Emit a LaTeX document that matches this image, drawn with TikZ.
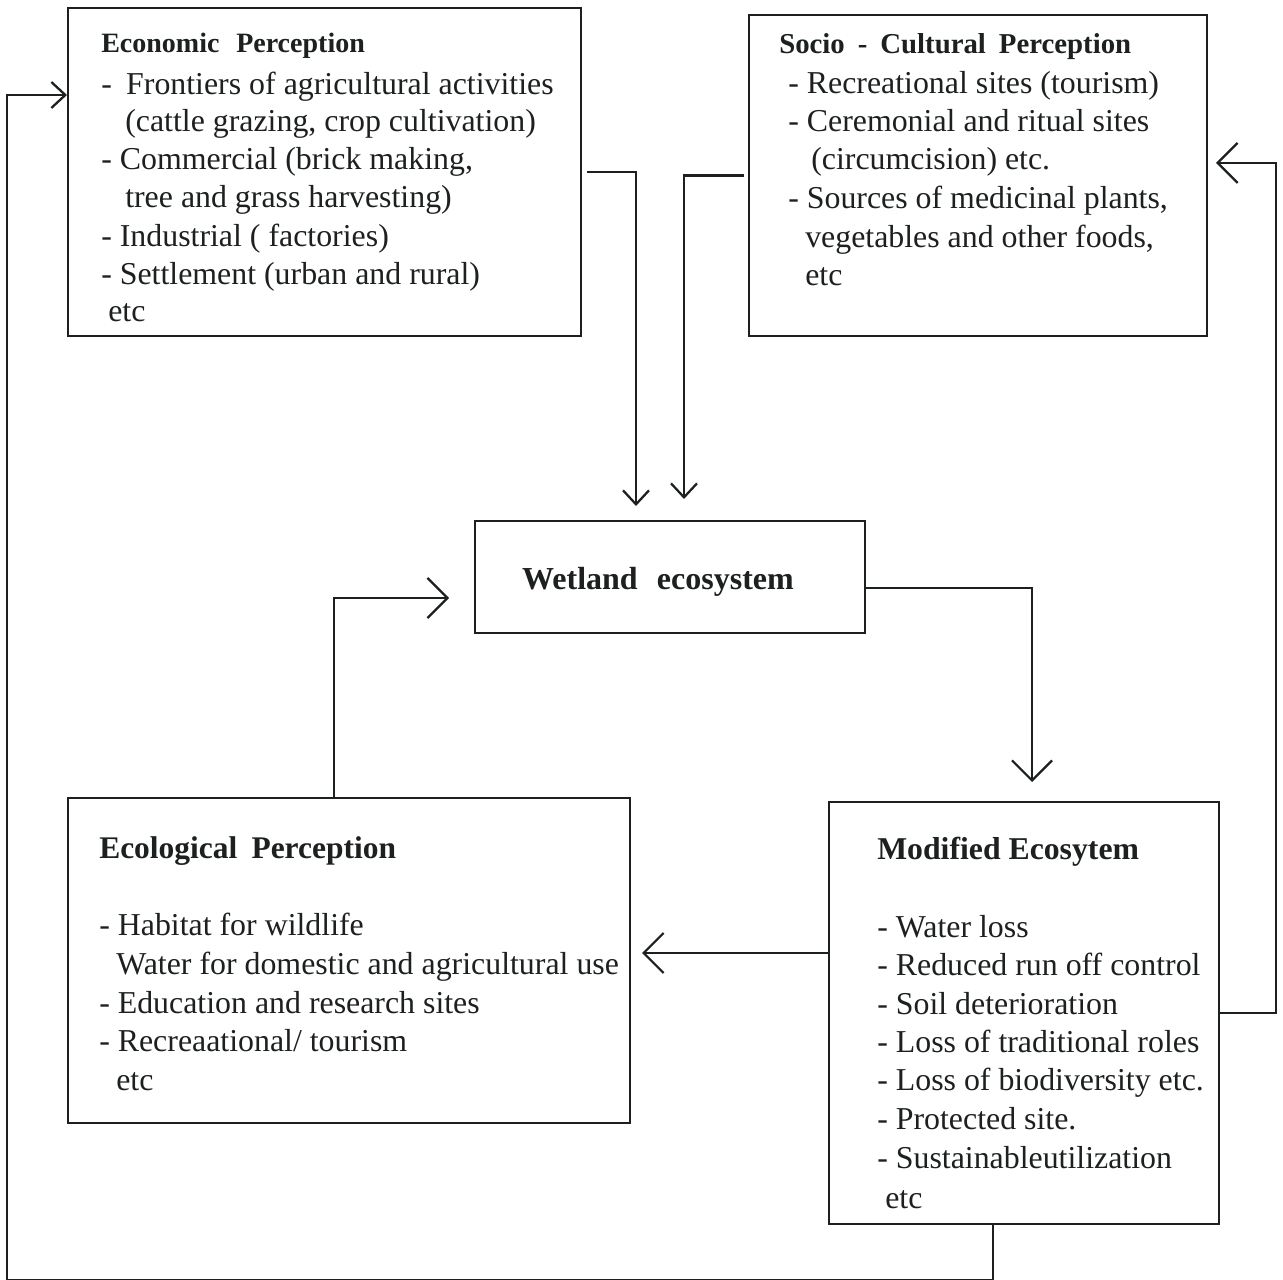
\documentclass[tikz,border=0pt]{standalone}
\usepackage{fontspec}
\setmainfont{Liberation Serif}
\usetikzlibrary{arrows.meta,calc}
\definecolor{ink}{RGB}{28,32,30}
\begin{document}
\begin{tikzpicture}[x=0.75pt,y=-0.75pt,
  box/.style={draw=ink, line width=1.5pt, rectangle, inner sep=0pt},
  txt/.style={anchor=base west, inner sep=0pt, text=ink, font=\fontsize{23.9}{28}\selectfont},
  head/.style={anchor=base west, inner sep=0pt, text=ink, font=\bfseries\fontsize{21}{25}\selectfont},
  conn/.style={draw=ink, line width=1.7pt, line join=miter},
  arrbig/.style={conn, -{Straight Barb[length=15pt,width=30pt,line width=1.7pt]}},
  arrsmall/.style={conn, -{Straight Barb[length=10.5pt,width=19.5pt,line width=1.7pt]}}
]
\useasboundingbox[fill=white] (0,0) rectangle (1283,1280);

% boxes
\node[box, minimum width=384.75pt, minimum height=246pt] (econ) at (324.5,172) {};
\node[box, minimum width=343.5pt, minimum height=240.75pt] (socio) at (978,175.5) {};
\node[box, minimum width=292.5pt, minimum height=84pt] (wet) at (670,577) {};
\node[box, minimum width=421.5pt, minimum height=243.75pt] (ecol) at (349,960.5) {};
\node[box, minimum width=292.5pt, minimum height=316.5pt] (mod) at (1024,1013) {};

% economic text
\node[head] (eh) at (101,53) {Economic\hspace{0.6em}Perception};
\foreach \i/\x/\y/\t in {1/101/95/{-\hspace{0.45em}Frontiers of agricultural activities},
  2/125/132/{(cattle grazing, crop cultivation)},
  3/101/170/{- Commercial (brick making,},
  4/125/208/{tree and grass harvesting)},
  5/101/247/{- Industrial ( factories)},
  6/101/285/{- Settlement (urban and rural)},
  7/108/322/{etc}}
  \node[txt] (et\i) at (\x,\y) {\t};

% socio text
\node[head, font=\bfseries\fontsize{21.6}{25}\selectfont] (sh) at (779,54) {Socio\hspace{0.45em}-\hspace{0.45em}Cultural\hspace{0.45em}Perception};
\foreach \i/\x/\y/\t in {1/788/94/{- Recreational sites (tourism)},
  2/788/132/{- Ceremonial and ritual sites},
  3/811/170/{(circumcision) etc.},
  4/788/209/{- Sources of medicinal plants,},
  5/805/248/{vegetables and other foods,},
  6/805/286/{etc}}
  \node[txt] (st\i) at (\x,\y) {\t};

% wetland
\node[anchor=base, inner sep=0pt, text=ink, font=\bfseries\fontsize{24}{28}\selectfont] (wt) at (658,589) {Wetland\hspace{0.6em}ecosystem};

% ecological text
\node[head, font=\bfseries\fontsize{23.6}{28}\selectfont] (ch) at (99,858) {Ecological\hspace{0.45em}Perception};
\foreach \i/\x/\y/\t in {1/99/935/{- Habitat for wildlife},
  2/116/974/{Water for domestic and agricultural use},
  3/99/1013/{- Education and research sites},
  4/99/1051/{- Recreaational/ tourism},
  5/116/1090/{etc}}
  \node[txt] (ct\i) at (\x,\y) {\t};

% modified text
\node[head, font=\bfseries\fontsize{23.8}{28}\selectfont] (mh) at (877,859) {Modified Ecosytem};
\foreach \i/\x/\y/\t in {1/877/937/{- Water loss},
  2/877/975/{- Reduced run off control},
  3/877/1014/{- Soil deterioration},
  4/877/1052/{- Loss of traditional roles},
  5/877/1090/{- Loss of biodiversity etc.},
  6/877/1129/{- Protected site.},
  7/877/1168/{- Sustainableutilization},
  8/885/1208/{etc}}
  \node[txt] (mt\i) at (\x,\y) {\t};

% connectors
\draw[arrsmall] ([xshift=3.75pt]econ.east) -| ([xshift=-25.5pt,yshift=10.5pt]wet.north);
\draw[arrsmall] ([xshift=-3pt]socio.west) -| ([xshift=10.5pt,yshift=15.75pt]wet.north);
\draw[arrbig] ([yshift=-8pt]wet.east) -| ([xshift=6pt,yshift=14.25pt]mod.north);
\coordinate (mw) at ([yshift=45pt]mod.west);
\draw[arrbig] (mw) -- ([xshift=8.25pt]ecol.east |- mw);
\draw[arrbig] ([xshift=-11.25pt]ecol.north) |- ([xshift=-18.75pt,yshift=-15.75pt]wet.west);
\draw[arrbig] (mod.east) -- ++(56,0) |- ([xshift=6pt,yshift=9.4pt]socio.east);
\coordinate (lb) at (7,1280);
\draw[arrsmall] ([xshift=-23.25pt]mod.south) |- (lb) |- ([yshift=57.75pt]econ.west);
\end{tikzpicture}
\end{document}
